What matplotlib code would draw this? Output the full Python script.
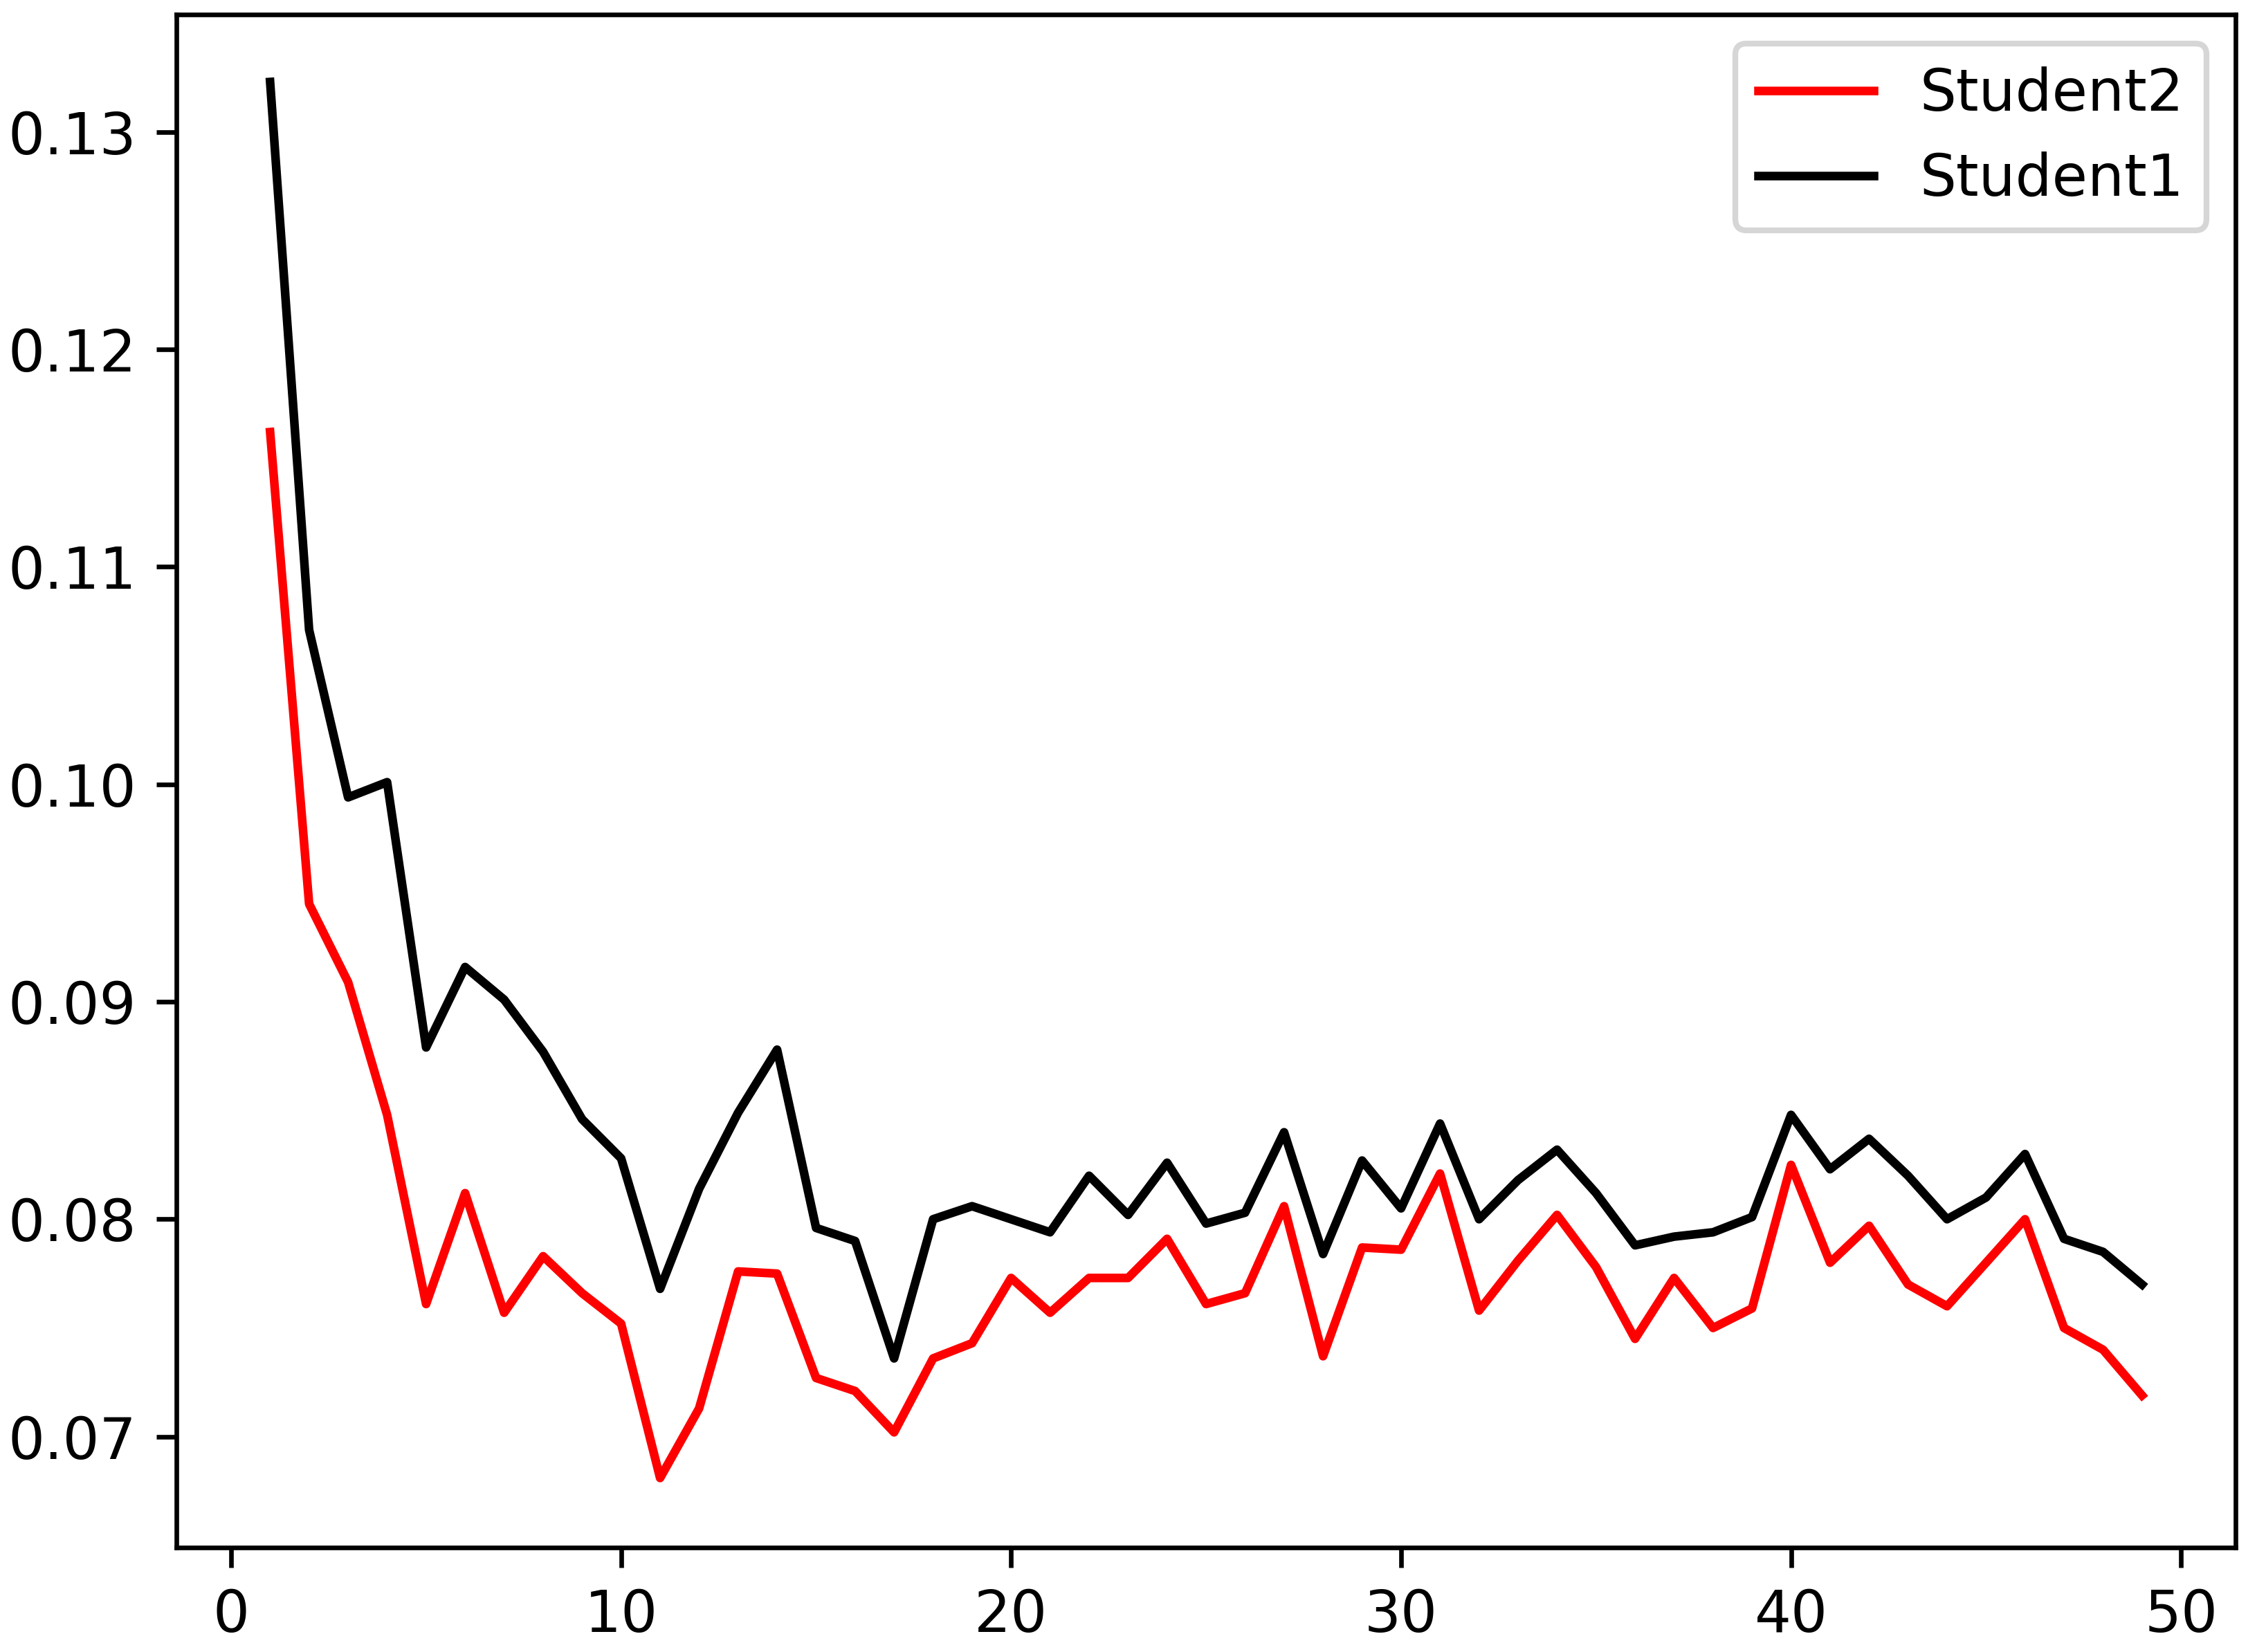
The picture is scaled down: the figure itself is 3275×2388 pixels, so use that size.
import matplotlib
matplotlib.use("Agg")
import matplotlib.pyplot as plt

epochs = list(range(1, 50))
student1 = [0.1323, 0.1071, 0.0994, 0.1001, 0.0879, 0.0916, 0.0901, 0.0877, 0.0846, 0.0828,
            0.0768, 0.0814, 0.0849, 0.0878, 0.0796, 0.0790, 0.0736, 0.0800, 0.0806, 0.0800,
            0.0794, 0.0820, 0.0802, 0.0826, 0.0798, 0.0803, 0.0840, 0.0784, 0.0827, 0.0805,
            0.0844, 0.0800, 0.0818, 0.0832, 0.0812, 0.0788, 0.0792, 0.0794, 0.0801, 0.0848,
            0.0823, 0.0837, 0.0820, 0.0800, 0.0810, 0.0830, 0.0791, 0.0785, 0.0770]
student2 = [0.1162, 0.0945, 0.0909, 0.0848, 0.0761, 0.0812, 0.0757, 0.0783, 0.0766, 0.0752,
            0.0681, 0.0713, 0.0776, 0.0775, 0.0727, 0.0721, 0.0702, 0.0736, 0.0743, 0.0773,
            0.0757, 0.0773, 0.0773, 0.0791, 0.0761, 0.0766, 0.0806, 0.0737, 0.0787, 0.0786,
            0.0821, 0.0758, 0.0781, 0.0802, 0.0778, 0.0745, 0.0773, 0.0750, 0.0759, 0.0825,
            0.0780, 0.0797, 0.0770, 0.0760, 0.0780, 0.0800, 0.0750, 0.0740, 0.0719]

dpi = 600
fig = plt.figure(figsize=(3275 / dpi, 2388 / dpi), dpi=dpi)
ax = fig.add_axes([0.0779, 0.0632, 0.9087, 0.928])
ax.plot(epochs, student2, color="red", linewidth=1.5, label="Student2")
ax.plot(epochs, student1, color="black", linewidth=1.5, label="Student1")
ax.set_xlim(-1.4, 51.4)
ax.set_ylim(0.0649, 0.1354)
ax.set_xticks([0, 10, 20, 30, 40, 50])
ax.set_yticks([0.07, 0.08, 0.09, 0.10, 0.11, 0.12, 0.13])
ax.set_yticklabels(["0.07", "0.08", "0.09", "0.10", "0.11", "0.12", "0.13"])
ax.legend(loc="upper right")
fig.savefig("out.png", dpi=dpi)
